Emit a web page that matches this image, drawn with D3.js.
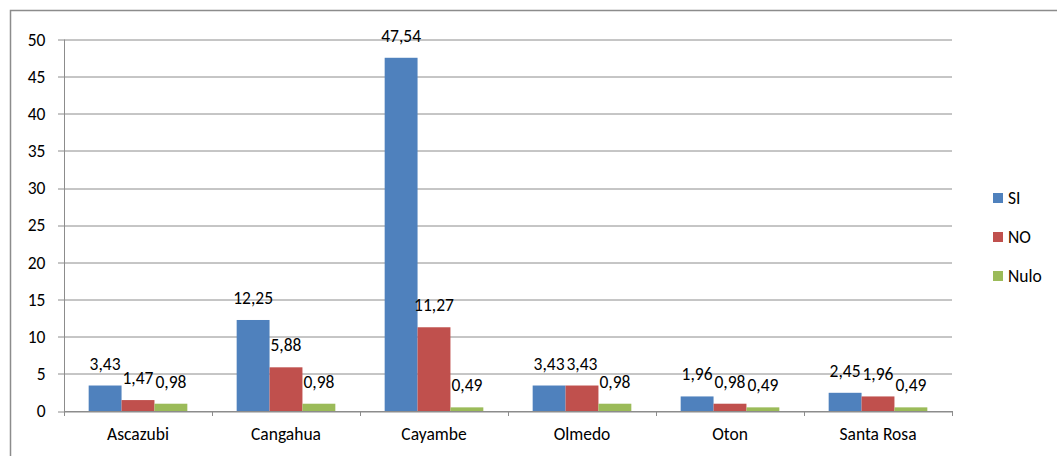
<!DOCTYPE html>
<html>
<head>
<meta charset="utf-8">
<script src="https://cdn.jsdelivr.net/npm/d3@7"></script>
<style>
  body { margin: 0; background: #fff; }
  svg { display: block; font-family: Carlito, Lato, "Open Sans", sans-serif; }
</style>
</head>
<body>
<div id="chart"></div>
<script>
// data
const categories = ["Ascazubi", "Cangahua", "Cayambe", "Olmedo", "Oton", "Santa Rosa"];
const seriesNames = ["SI", "NO", "Nulo"];
const siValues = [3.43, 12.25, 47.54, 3.43, 1.96, 2.45];
const noValues = [1.47, 5.88, 11.27, 3.43, 0.98, 1.96];
const nuloValues = [0.98, 0.98, 0.49, 0.98, 0.49, 0.49];
const yTicks = [0, 5, 10, 15, 20, 25, 30, 35, 40, 45, 50];
const colors = ["#4F81BD", "#C0504D", "#9BBB59"];

const seriesValues = [siValues, noValues, nuloValues];
const fontSize = "17.5px";

const W = 1057, H = 456;
const margin = { top: 39.5, right: 105, bottom: 45, left: 64 };
const width = W - margin.left - margin.right,
    height = H - margin.top - margin.bottom;

const svg = d3.select("#chart")
    .append("svg")
    .attr("width", W)
    .attr("height", H);

// outer chart border (runs off the right/bottom edge like the screenshot)
svg.append("rect")
    .attr("x", 10.5)
    .attr("y", 10.5)
    .attr("width", W + 20)
    .attr("height", H + 20)
    .attr("fill", "none")
    .attr("stroke", "#8c8c8c")
    .attr("stroke-width", 1.5);

const g = svg.append("g")
    .attr("transform", `translate(${margin.left},${margin.top})`);

const x = d3.scaleBand()
    .domain(categories)
    .range([0, width]);

// gap width 150% -> bars take 3/4.5 of the category
const xInner = d3.scaleBand()
    .domain(seriesNames)
    .range([0, x.bandwidth()])
    .paddingOuter(0.75);

const y = d3.scaleLinear()
    .domain([0, 50])
    .range([height, 0]);

// gridlines
g.append("g")
    .selectAll("line")
    .data(yTicks)
    .join("line")
    .attr("x1", -6)
    .attr("x2", width)
    .attr("y1", d => Math.round(y(d)) + 0.5)
    .attr("y2", d => Math.round(y(d)) + 0.5)
    .attr("stroke", "#8c8c8c")
    .attr("stroke-width", 1);

// y labels
g.append("g")
    .selectAll("text")
    .data(yTicks)
    .join("text")
    .attr("x", -18.5)
    .attr("y", d => y(d))
    .attr("dy", "0.35em")
    .attr("text-anchor", "end")
    .style("font-size", fontSize)
    .attr("fill", "#000")
    .text(d => d);

// y axis line
g.append("line")
    .attr("x1", 0.5).attr("x2", 0.5)
    .attr("y1", 0).attr("y2", height)
    .attr("stroke", "#8c8c8c");

// x axis with category ticks
const xAxis = g.append("g")
    .attr("transform", `translate(0,${height})`)
    .call(d3.axisBottom(x).tickSize(0).tickPadding(16.5).tickSizeOuter(0));
xAxis.select(".domain").attr("stroke", "#8c8c8c");
xAxis.selectAll("text").style("font-size", fontSize).attr("fill", "#000")
    .style("font-family", "Carlito, Lato, 'Open Sans', sans-serif");

g.append("g")
    .selectAll("line")
    .data(d3.range(categories.length + 1))
    .join("line")
    .attr("x1", i => Math.round(i * x.step()) + 0.5)
    .attr("x2", i => Math.round(i * x.step()) + 0.5)
    .attr("y1", height)
    .attr("y2", height + 5)
    .attr("stroke", "#8c8c8c");

// bars
const groups = g.append("g")
    .selectAll("g")
    .data(categories)
    .join("g")
    .attr("transform", d => `translate(${x(d)},0)`);

seriesNames.forEach((s, si) => {
    groups.append("rect")
        .attr("x", xInner(s))
        .attr("width", xInner.bandwidth())
        .attr("y", (d, i) => y(seriesValues[si][i]))
        .attr("height", (d, i) => height - y(seriesValues[si][i]))
        .attr("fill", colors[si]);

    groups.append("text")
        .attr("x", xInner(s) + xInner.bandwidth() / 2)
        .attr("y", (d, i) => y(seriesValues[si][i]) - 16)
        .attr("text-anchor", "middle")
        .style("font-size", fontSize)
        .attr("fill", "#000")
        .text((d, i) => seriesValues[si][i].toFixed(2).replace(".", ","));
});

// legend
const legend = svg.append("g")
    .selectAll("g")
    .data(seriesNames)
    .join("g")
    .attr("transform", (d, i) => `translate(993,${198 + i * 39})`);

legend.append("rect")
    .attr("x", 0)
    .attr("y", -5)
    .attr("width", 10)
    .attr("height", 10)
    .attr("fill", (d, i) => colors[i]);

legend.append("text")
    .attr("x", 15)
    .attr("dy", "0.35em")
    .style("font-size", fontSize)
    .text(d => d);
</script>
</body>
</html>
